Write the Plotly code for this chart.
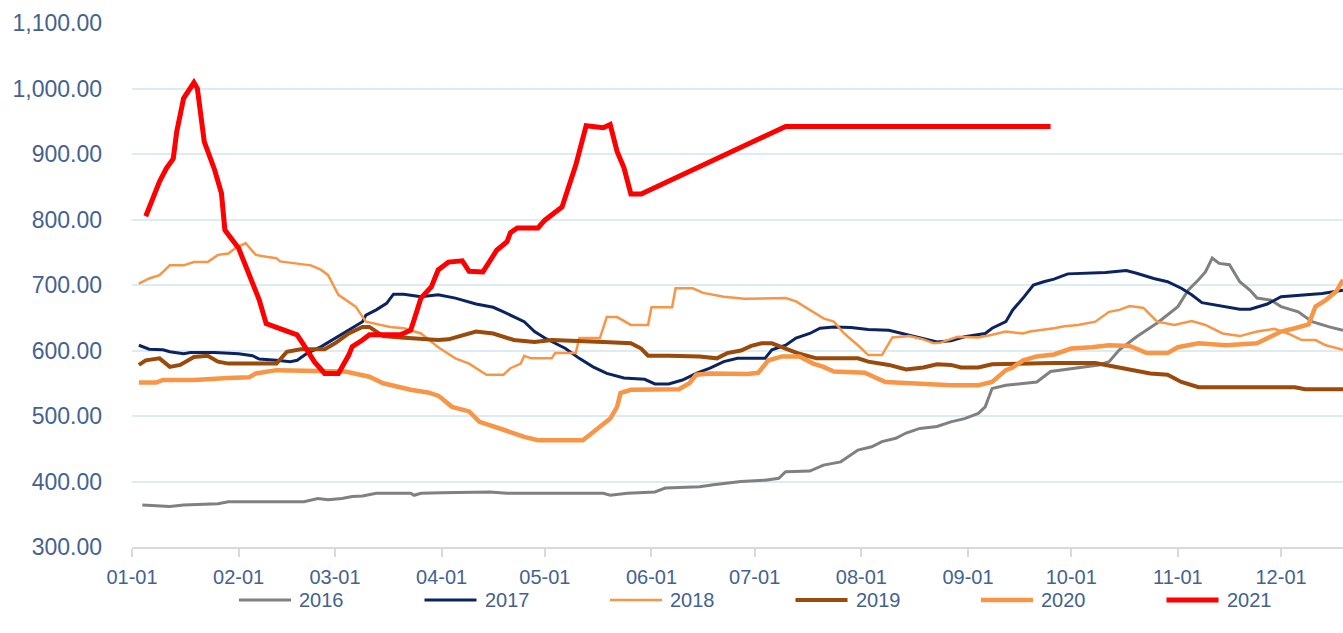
import pandas as pd
import plotly.graph_objects as go

# ---- data (day offset from Jan 1, value) ----
days_2016 = [3, 11, 15, 25, 28, 50, 54, 57, 61, 64, 67, 71, 81, 82, 84, 90, 104, 109, 137, 139,
             144, 152, 155, 165, 169, 177, 184, 188, 190, 197, 201, 206, 211, 215, 218, 222, 225, 229, 234, 238,
             242, 246, 248, 250, 254, 259, 263, 267, 274, 281, 284, 287, 292, 298, 304, 307, 310, 312, 314, 316,
             319, 322, 325, 327, 331, 334, 339, 343, 348, 352]
vals_2016 = [364, 362, 364, 366, 369, 369, 374, 372, 374, 377, 378, 382, 382, 379, 382, 383, 384, 382, 382, 379,
             382, 384, 390, 392, 395, 400, 402, 405, 415, 416, 425, 430, 448, 453, 461, 466, 474, 481, 484, 491,
             496, 504, 514, 542, 547, 550, 552, 568, 573, 578, 583, 601, 621, 642, 667, 692, 708, 720, 741, 733,
             731, 705, 692, 680, 677, 667, 659, 644, 636, 631]

days_2017 = [2, 5, 9, 11, 15, 17, 24, 31, 35, 37, 42, 46, 48, 51, 55, 59, 63, 67, 68, 71,
             74, 76, 79, 84, 89, 94, 100, 105, 108, 114, 117, 120, 126, 130, 134, 138, 143, 149, 152, 156,
             160, 164, 168, 172, 176, 178, 184, 186, 190, 193, 197, 200, 204, 209, 214, 220, 224, 228, 234, 238,
             242, 248, 250, 254, 256, 259, 262, 265, 268, 272, 279, 283, 289, 292, 297, 301, 305, 308, 311, 316,
             322, 325, 330, 334, 340, 346, 352]
vals_2017 = [608, 602, 601, 598, 595, 597, 597, 595, 592, 587, 585, 583, 585, 596, 606, 619, 631, 644, 654, 662,
             672, 686, 686, 682, 685, 680, 671, 666, 659, 644, 629, 619, 603, 588, 575, 565, 558, 556, 549, 549,
             555, 565, 573, 583, 588, 588, 588, 601, 608, 619, 626, 634, 636, 635, 632, 631, 626, 621, 613, 615,
             621, 626, 634, 644, 662, 680, 700, 705, 709, 717, 718, 719, 722, 718, 710, 705, 695, 685, 673, 668,
             663, 663, 671, 682, 685, 687, 692]

days_2018 = [2, 5, 8, 11, 15, 18, 22, 25, 28, 30, 33, 36, 39, 42, 43, 52, 55, 57, 60, 65,
             68, 72, 75, 79, 84, 89, 94, 98, 103, 108, 110, 113, 114, 116, 122, 123, 129, 130, 136, 138,
             141, 145, 150, 151, 157, 158, 163, 166, 172, 178, 190, 193, 197, 201, 204, 207, 211, 214, 218, 221,
             226, 230, 233, 235, 240, 246, 250, 254, 259, 261, 268, 271, 275, 280, 284, 287, 290, 294, 298, 303,
             308, 312, 317, 322, 327, 332, 336, 340, 344, 347, 352]
vals_2018 = [702, 710, 715, 730, 730, 735, 735, 746, 748, 756, 764, 746, 743, 741, 736, 730, 723, 715, 685, 667,
             644, 639, 636, 634, 626, 605, 588, 580, 563, 563, 573, 580, 592, 588, 588, 596, 596, 619, 619, 651,
             651, 639, 639, 666, 666, 695, 695, 688, 682, 679, 680, 675, 662, 649, 644, 626, 608, 593, 593, 620,
             622, 617, 611, 612, 621, 620, 624, 629, 626, 629, 634, 637, 639, 644, 659, 662, 668, 665, 644, 639,
             645, 639, 626, 622, 629, 633, 626, 616, 616, 608, 601]

days_2019 = [2, 4, 8, 11, 14, 18, 22, 25, 28, 42, 45, 49, 56, 59, 63, 67, 69, 73, 78, 89,
             92, 100, 105, 111, 117, 122, 137, 145, 148, 150, 156, 165, 170, 173, 177, 180, 183, 186, 190, 194,
             199, 211, 214, 220, 225, 230, 234, 238, 241, 246, 250, 258, 268, 280, 283, 291, 296, 301, 305, 310,
             338, 341, 352]
vals_2019 = [578, 585, 588, 575, 578, 590, 592, 583, 580, 580, 598, 602, 602, 611, 626, 636, 636, 622, 620, 616,
             617, 629, 626, 616, 613, 616, 613, 611, 603, 592, 592, 591, 588, 596, 600, 607, 611, 611, 603, 595,
             588, 588, 583, 578, 571, 574, 579, 578, 574, 574, 579, 580, 581, 581, 578, 570, 565, 563, 552, 544,
             544, 541, 541]

days_2020 = [2, 7, 9, 18, 28, 34, 36, 42, 62, 66, 69, 73, 77, 81, 86, 89, 90, 93, 98, 101,
             108, 114, 118, 131, 133, 136, 139, 141, 142, 145, 159, 162, 164, 168, 179, 182, 185, 189, 194, 198,
             201, 204, 213, 219, 223, 232, 238, 246, 250, 254, 256, 259, 263, 268, 273, 279, 284, 290, 295, 301,
             304, 310, 318, 327, 331, 334, 338, 342, 344, 347, 350, 352]
vals_2020 = [551, 551, 555, 555, 558, 559, 565, 570, 568, 563, 560, 550, 545, 540, 536, 531, 527, 514, 507, 491,
             479, 468, 463, 463, 471, 484, 496, 514, 535, 540, 541, 550, 563, 565, 564, 566, 585, 591, 591, 580,
             575, 568, 566, 552, 551, 550, 547, 547, 552, 570, 574, 585, 591, 594, 603, 605, 608, 607, 596, 596,
             605, 611, 608, 611, 621, 629, 634, 640, 667, 677, 690, 708]

days_2021 = [4, 8, 10, 12, 13, 15, 18, 19, 21, 24, 26, 27, 31, 33, 35, 37, 39, 43, 48, 50,
             53, 56, 60, 63, 64, 67, 69, 78, 81, 82, 84, 87, 89, 92, 96, 98, 102, 106, 109, 110,
             112, 118, 120, 125, 127, 129, 132, 137, 139, 141, 143, 145, 148, 190, 267]
vals_2021 = [805, 858, 878, 893, 934, 985, 1009, 1000, 919, 876, 840, 784, 756, 728, 700, 677, 641, 634, 624, 608,
             583, 565, 565, 593, 606, 616, 624, 624, 631, 647, 680, 697, 723, 735, 737, 721, 720, 753, 766, 780,
             787, 787, 799, 819, 853, 883, 943, 940, 945, 904, 879, 839, 839, 942, 942]

series_names = ["2016", "2017", "2018", "2019", "2020", "2021"]
series_days = [days_2016, days_2017, days_2018, days_2019, days_2020, days_2021]
series_vals = [vals_2016, vals_2017, vals_2018, vals_2019, vals_2020, vals_2021]
series_colors = ["#808080", "#0B2460", "#F79646", "#9A4A0A", "#F79646", "#FF0000"]
series_widths = [3, 3, 2.5, 4, 4.5, 5]

base = pd.Timestamp("2021-01-01")
txt = "#44628F"

# figure geometry (pixels) used to place the legend row under the plot
W, H = 1343, 633
ML, MR, MT, MB = 132, 0, 23, 86
PW, PH = W - ML - MR, H - MT - MB
legend_y_px = 600
legend_first_px = 239
legend_step_px = 185.5
legend_line_px = 52
legend_text_gap_px = 6

fig = go.Figure()
for i, (name, d, v, c, w) in enumerate(zip(series_names, series_days, series_vals,
                                           series_colors, series_widths)):
    x = base + pd.to_timedelta(d, unit="D")
    fig.add_trace(go.Scatter(x=x, y=v, mode="lines", name=name,
                             line=dict(color=c, width=w), showlegend=False))
    # legend entry (sample line + label)
    x0 = legend_first_px + i * legend_step_px
    yp = (H - MB - legend_y_px) / PH
    fig.add_shape(type="line", xref="paper", yref="paper",
                  x0=(x0 - ML) / PW, x1=(x0 + legend_line_px - ML) / PW, y0=yp, y1=yp,
                  line=dict(color=c, width=w))
    fig.add_annotation(xref="paper", yref="paper", x=(x0 + legend_line_px + legend_text_gap_px - ML) / PW,
                       y=yp, xanchor="left", yanchor="middle", text=name, showarrow=False,
                       font=dict(size=20, color=txt))

fig.update_layout(
    width=W, height=H,
    margin=dict(l=ML, r=MR, t=MT, b=MB, autoexpand=False),
    paper_bgcolor="white", plot_bgcolor="white",
    font=dict(family="Liberation Sans, Arial, sans-serif", color=txt),
    showlegend=False,
    xaxis=dict(type="date", range=["2021-01-01", "2021-12-19"],
               tick0="2021-01-01", dtick="M1", tickformat="%m-%d",
               showgrid=False, showline=True, linecolor="#D9D9D9", linewidth=1.5,
               ticks="outside", ticklen=8, tickcolor="#D9D9D9", tickwidth=1.5,
               tickfont=dict(size=20, color=txt), ticklabelstandoff=3, zeroline=False),
    yaxis=dict(range=[300, 1100], dtick=100, tickformat=",.2f",
               showgrid=True, gridcolor="#DDECF3", gridwidth=1.5,
               showline=False, zeroline=False, ticks="",
               tickfont=dict(size=23, color=txt), ticklabelstandoff=29),
)

fig.write_html("out.html", config={"displayModeBar": False},
               post_script="document.body.style.margin='0';document.body.style.overflow='hidden';")
